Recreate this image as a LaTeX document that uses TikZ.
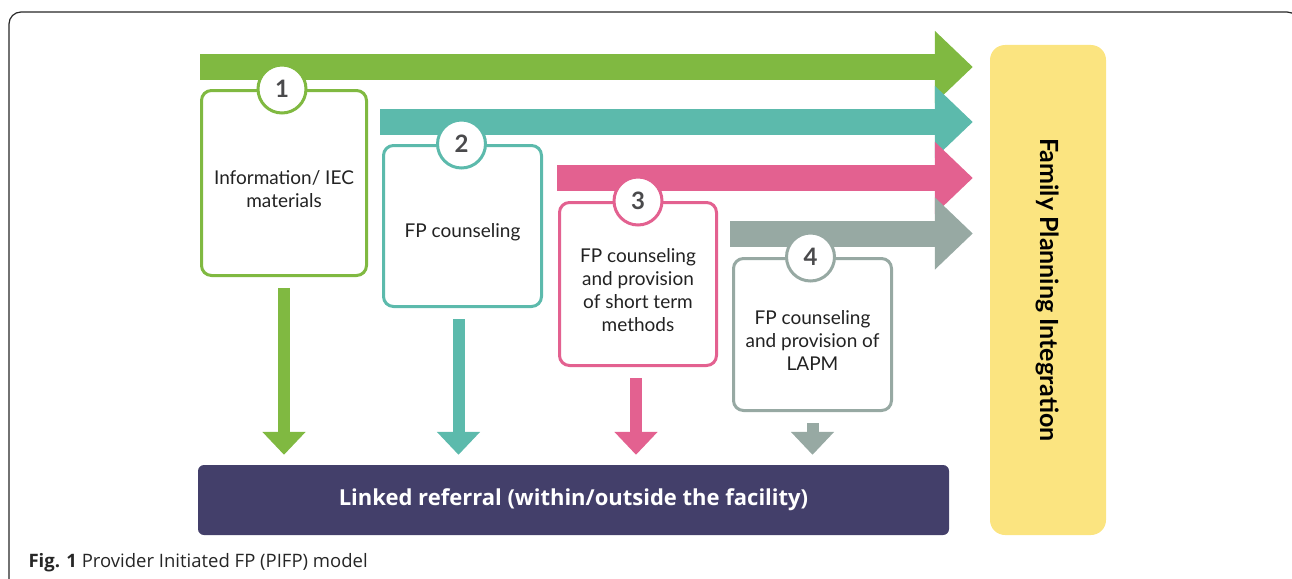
\documentclass[tikz,border=0pt]{standalone}
\usepackage{fontspec}
\setmainfont{Lato}
\newfontfamily\capfont{Open Sans}
\usetikzlibrary{arrows.meta}
\definecolor{fpgreen}{HTML}{80B941}
\definecolor{fpteal}{HTML}{5CBAAC}
\definecolor{fppink}{HTML}{E36190}
\definecolor{fpgray}{HTML}{97A9A3}
\definecolor{fppurple}{HTML}{433F6A}
\definecolor{fpyellow}{HTML}{FBE480}
\definecolor{numgray}{HTML}{4A4A4C}
\definecolor{txtgray}{HTML}{222222}
\tikzset{
  stepbox/.style={
    draw=#1,
    line width=3pt,
    rounded corners=10pt,
    fill=white,
    inner sep=0pt
  },
  boxtext/.style={
    align=center,
    text=txtgray,
    font=\fontsize{19}{23}\selectfont
  },
  stepnum/.style={
    draw=#1,
    circle,
    line width=3pt,
    fill=white,
    minimum size=48pt,
    inner sep=0pt,
    text=numgray,
    font=\fontsize{24}{24}\selectfont\bfseries
  },
  bar/.style={
    draw=#1,
    line width=26pt,
    -{Triangle[length=38pt,width=70pt]},
    shorten >=17pt
  },
  drop/.style={
    draw=#1,
    line width=12pt,
    -{Triangle[length=23pt,width=42pt]},
    shorten <=11pt,
    shorten >=10pt
  }
}

\begin{document}
\begin{tikzpicture}[x=1pt,y=-1pt]
  \useasboundingbox (0,0) rectangle (1292,578);
  \clip (0,0) rectangle (1292,578);
  \draw[line width=1.2pt, color=black!85, rounded corners=12pt]
    (9,600) -- (9,12) -- (1299,12) -- (1299,600);

  \node[fill=fpyellow, rounded corners=15pt, minimum width=116pt, minimum height=490pt] (fpi) at (1048,290) {};
  \node[rotate=-90, font=\fontsize{25}{25}\selectfont\bfseries, text=black] (fpitext) at (fpi.center) {Family Planning Integration};

  \node[fill=fppurple, rounded corners=6pt, minimum width=751pt, minimum height=70pt,
        text=white, font=\capfont\fontsize{22}{22}\selectfont\bfseries] (ref) at (573.5,500)
    {Linked referral (within/outside the facility)};

  \coordinate (s1) at (200,67);
  \coordinate (s2) at (380,122);
  \coordinate (s3) at (557,178);
  \coordinate (s4) at (730,233.5);
  \draw[bar=fpgreen] (s1) -- (fpi.west |- s1);
  \draw[bar=fpteal] (s2) -- (fpi.west |- s2);
  \draw[bar=fppink] (s3) -- (fpi.west |- s3);
  \draw[bar=fpgray] (s4) -- (fpi.west |- s4);

  \node[stepbox=fpgreen, minimum width=165pt, minimum height=185pt] (b1) at (284,183) {};
  \node[stepbox=fpteal, minimum width=158pt, minimum height=161pt] (b2) at (462.5,226) {};
  \node[stepbox=fppink, minimum width=157pt, minimum height=163pt] (b3) at (638,284) {};
  \node[stepbox=fpgray, minimum width=158pt, minimum height=152pt] (b4) at (812.5,334.5) {};

  \node[boxtext] (t1) at ([yshift=-6pt]b1.center) {Information/ IEC\\materials};
  \node[boxtext] (t2) at ([yshift=-6pt]b2.center) {FP counseling};
  \node[boxtext] (t3) at ([yshift=-6pt]b3.center) {FP counseling\\and provision\\of short term\\methods};
  \node[boxtext] (t4) at ([yshift=-6pt]b4.center) {FP counseling\\and provision of\\LAPM};

  \node[stepnum=fpgreen] (n1) at ([xshift=-2pt]b1.north) {1};
  \node[stepnum=fpteal] (n2) at ([xshift=-1pt]b2.north) {2};
  \node[stepnum=fppink] (n3) at (b3.north) {3};
  \node[stepnum=fpgray] (n4) at ([xshift=-2pt]b4.north) {4};

  \draw[drop=fpgreen] (b1.south) -- (b1.south |- ref.north);
  \draw[drop=fpteal] ([xshift=-4pt]b2.south) -- ([xshift=-4pt]b2.south |- ref.north);
  \draw[drop=fppink] ([xshift=-2pt]b3.south) -- ([xshift=-2pt]b3.south |- ref.north);
  \draw[drop=fpgray] (b4.south) -- (b4.south |- ref.north);

  \node[anchor=base west, font=\capfont\fontsize{18.5}{18.5}\selectfont, text=black!85] (cap) at (25,567)
    {\textbf{Fig. 1} Provider Initiated FP (PIFP) model};
\end{tikzpicture}
\end{document}
